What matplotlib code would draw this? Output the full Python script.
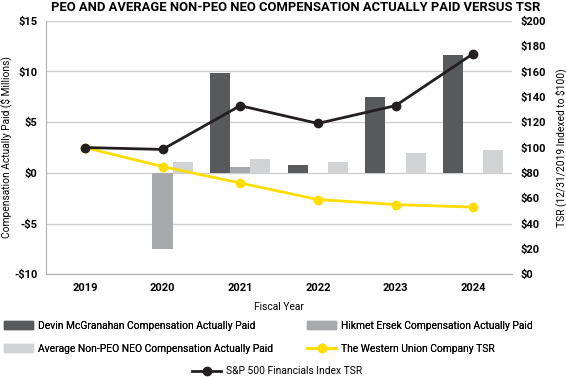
import matplotlib
matplotlib.use("Agg")
import matplotlib.pyplot as plt
import numpy as np
from matplotlib.lines import Line2D
from matplotlib.patches import Patch

plt.rcParams['font.family'] = ['Roboto', 'DejaVu Sans']

years = ['2019', '2020', '2021', '2022', '2023', '2024']
# compensation actually paid, $ millions (None = no bar)
devin_cap = [None, None, 9.8, 0.8, 7.5, 11.6]
hikmet_cap = [None, -7.5, 0.6, None, None, None]
avg_neo_cap = [None, 1.1, 1.4, 1.1, 2.0, 2.3]
# TSR, indexed to $100
wu_tsr = [100, 85, 72, 59, 55, 53]
sp_fin_tsr = [100, 98.5, 133, 119, 133, 174]

left_ticks = [-10, -5, 0, 5, 10, 15]
left_labels = ['-$10', '-$5', '$0', '$5', '$10', '$15']
right_ticks = list(range(0, 201, 20))

c_devin = '#58595b'
c_hikmet = '#a7a9ac'
c_avg = '#d1d3d4'
c_wu = '#ffdd00'
c_sp = '#231f20'
c_grid = '#cfcfcf'

fs = 7.4
tick_w = 'bold'

fig = plt.figure(figsize=(5.66, 3.77), dpi=100)
ax = fig.add_axes([0.0813, 0.2724, 0.8233, 0.6726])
x = np.arange(len(years))
w = 0.26


def bars(vals, off, color):
    xs = [xi + off for xi, v in zip(x, vals) if v is not None]
    vs = [v for v in vals if v is not None]
    ax.bar(xs, vs, width=w, color=color, zorder=2)


bars(devin_cap, -w, c_devin)
bars(hikmet_cap, 0, c_hikmet)
bars(avg_neo_cap, w, c_avg)

ax.set_xlim(-0.5, len(years) - 0.5)
ax.set_ylim(-10, 15)
ax.set_yticks(left_ticks)
ax.set_yticklabels(left_labels)
ax.set_xticks(x)
ax.set_xticklabels(years)
ax.set_axisbelow(True)
ax.grid(axis='y', color=c_grid, linewidth=1)
for s in ['top', 'right']:
    ax.spines[s].set_visible(False)
for s in ['left', 'bottom']:
    ax.spines[s].set_color('#b0b0b0')
ax.tick_params(length=0, labelsize=8, pad=6)
for lab in ax.get_xticklabels() + ax.get_yticklabels():
    lab.set_fontweight(tick_w)
ax.set_xlabel('Fiscal Year', fontsize=fs, labelpad=7)
ax.set_ylabel('Compensation Actually Paid ($ Millions)', fontsize=fs, labelpad=2)

ax2 = ax.twinx()
ax2.plot(x, wu_tsr, color=c_wu, lw=2, marker='o', ms=6, zorder=3)
ax2.plot(x, sp_fin_tsr, color=c_sp, lw=2, marker='o', ms=6, zorder=4)
ax2.set_ylim(0, 200)
ax2.set_yticks(right_ticks)
ax2.set_yticklabels(['$%d' % t for t in right_ticks])
for s in ax2.spines.values():
    s.set_visible(False)
ax2.tick_params(length=0, labelsize=8, pad=6)
for lab in ax2.get_yticklabels():
    lab.set_fontweight(tick_w)
ax2.set_ylabel('TSR (12/31/2019 Indexed to $100)', fontsize=fs, labelpad=7)

fig.suptitle('PEO AND AVERAGE NON-PEO NEO COMPENSATION ACTUALLY PAID VERSUS TSR',
             fontsize=9.4, fontweight='bold', x=0.522, y=0.997, va='top')

h_devin = Patch(color=c_devin, label='Devin McGranahan Compensation Actually Paid')
h_hik = Patch(color=c_hikmet, label='Hikmet Ersek Compensation Actually Paid')
h_avg = Patch(color=c_avg, label='Average Non-PEO NEO Compensation Actually Paid')
h_wu = Line2D([], [], color=c_wu, lw=2, marker='o', ms=6,
              label='The Western Union Company TSR')
h_sp = Line2D([], [], color=c_sp, lw=2, marker='o', ms=6,
              label='S&P 500 Financials Index TSR')

leg_kw = dict(frameon=False, fontsize=fs, handlelength=2.8, handleheight=0.8,
              borderaxespad=0, borderpad=0, handletextpad=0.5, labelspacing=1.25)
leg1 = fig.legend(handles=[h_devin, h_avg], loc='upper left',
                  bbox_to_anchor=(0.007, 0.149), **leg_kw)
leg2 = fig.legend(handles=[h_hik, h_wu], loc='upper left',
                  bbox_to_anchor=(0.543, 0.149), **leg_kw)
fig.add_artist(leg1)
fig.add_artist(leg2)
fig.legend(handles=[h_sp], loc='center', bbox_to_anchor=(0.49, 0.015), **leg_kw)

fig.savefig('out.png', dpi=100)
